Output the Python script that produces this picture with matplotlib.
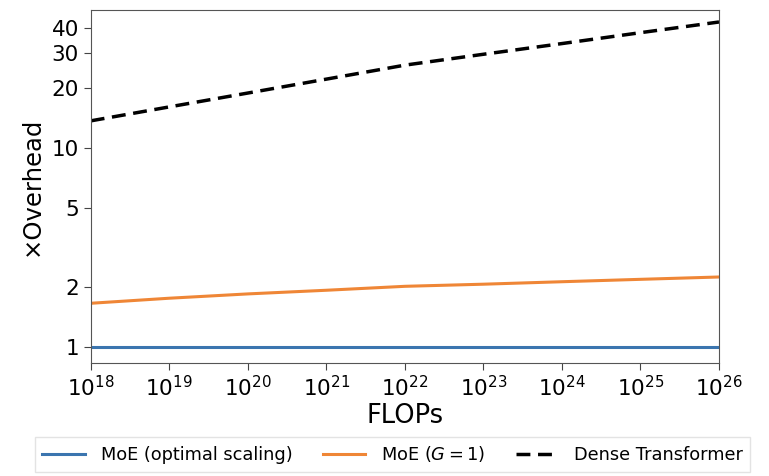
import numpy as np
import matplotlib.pyplot as plt
from matplotlib.ticker import FixedLocator, NullLocator, ScalarFormatter

# training compute budgets (FLOPs), one point per decade
flops = np.array([1e18, 1e19, 1e20, 1e21, 1e22, 1e23, 1e24, 1e25, 1e26])

# overhead relative to the optimally scaled MoE
moe_optimal = np.array([1.0, 1.0, 1.0, 1.0, 1.0, 1.0, 1.0, 1.0, 1.0])
moe_g1 = np.array([1.66, 1.76, 1.85, 1.93, 2.02, 2.07, 2.13, 2.19, 2.25])
dense = np.array([13.7, 16.1, 18.9, 22.2, 26.1, 29.6, 33.5, 38.0, 43.0])

y_ticks = [1, 2, 5, 10, 20, 30, 40]
x_ticks = [1e18, 1e19, 1e20, 1e21, 1e22, 1e23, 1e24, 1e25, 1e26]


def plot_overhead():
    fig = plt.figure(figsize=(7.69, 4.76), dpi=100)
    ax = fig.add_axes([0.118, 0.237, 0.817, 0.742])

    ax.plot(flops, moe_optimal, color='#3b75af', lw=2.2, label='MoE (optimal scaling)')
    ax.plot(flops, moe_g1, color='#ef8636', lw=2.2, label='MoE ($G=1$)')
    ax.plot(flops, dense, color='black', lw=2.5, ls=(0, (4, 2.2)), label='Dense Transformer')

    ax.set_xscale('log')
    ax.set_yscale('log')
    ax.set_xlim(1e18, 1e26)
    ax.set_ylim(0.83, 49.4)

    ax.xaxis.set_major_locator(FixedLocator(x_ticks))
    ax.xaxis.set_minor_locator(NullLocator())
    ax.yaxis.set_major_locator(FixedLocator(y_ticks))
    ax.yaxis.set_minor_locator(NullLocator())
    ax.yaxis.set_major_formatter(ScalarFormatter())

    ax.tick_params(labelsize=15.5, length=5, color='#444444')
    for s in ax.spines.values():
        s.set_color('#555555')

    ax.set_xlabel('FLOPs', fontsize=18.5, labelpad=2)
    ax.set_ylabel('×Overhead', fontsize=17.5, labelpad=6)

    ax.legend(loc='upper left', bbox_to_anchor=(-0.089, -0.21), ncol=3,
              fontsize=12.8, frameon=True, fancybox=False, edgecolor='#dddddd',
              handlelength=2.4, handletextpad=0.9, columnspacing=1.7,
              borderaxespad=0)

    fig.savefig('out.png', dpi=100)


if __name__ == "__main__":
    plot_overhead()
